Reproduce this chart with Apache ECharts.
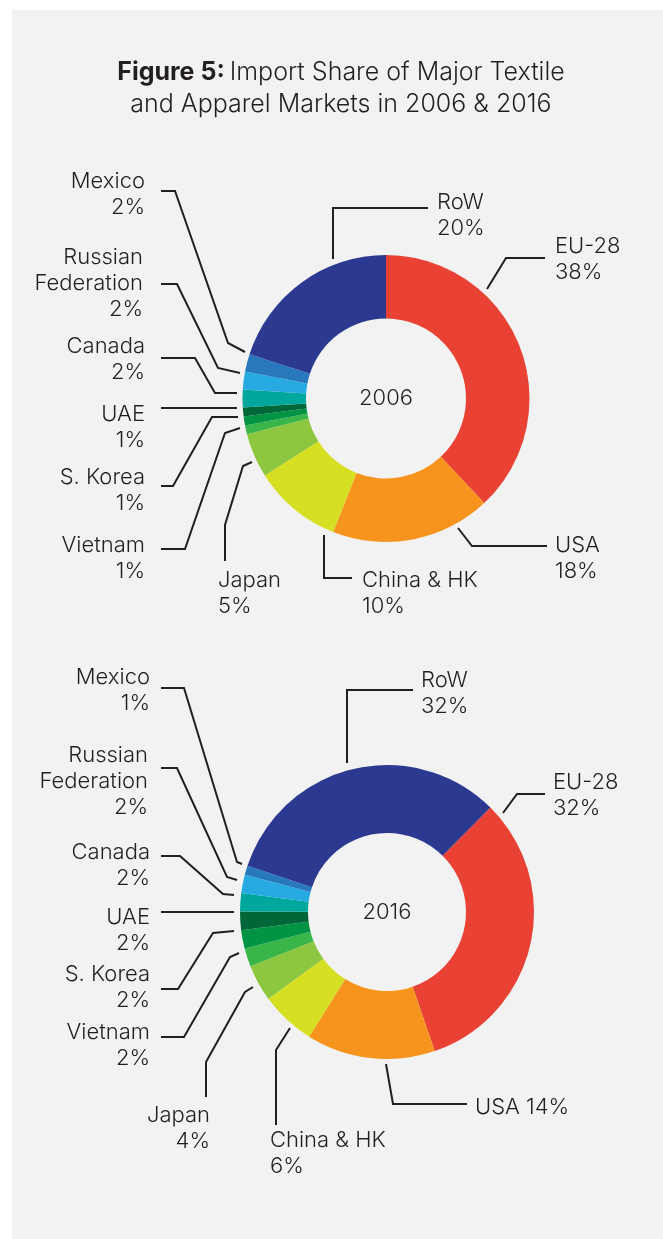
<!DOCTYPE html>
<html>
<head>
<meta charset="utf-8">
<script src="https://cdn.jsdelivr.net/npm/echarts@6/dist/echarts.min.js"></script>
<style>
  html, body { margin:0; padding:0; background:#fff; }
  #chart { width:663px; height:1239px; }
</style>
</head>
<body>
<div id="chart"></div>
<script>
// Data
const categories = ['EU-28', 'USA', 'China & HK', 'Japan', 'Vietnam', 'S. Korea', 'UAE', 'Canada', 'Russian Federation', 'Mexico', 'RoW'];
const share2006 = [38, 18, 10, 5, 1, 1, 1, 2, 2, 2, 20];
const share2016 = [32, 14, 6, 4, 2, 2, 2, 2, 2, 1, 32];
const years = ['2006', '2016'];
const sliceColors = ['#e94234', '#f7941d', '#d7df23', '#8dc63f', '#39b54a', '#009444', '#006838', '#00a79d', '#27aae1', '#2878be', '#2b3990'];

// Label placement (text anchor + leader line points, slice -> label)
const layout2006 = [
  { x:555, y:259, align:'left',  line:[[487,289],[506,258],[545,258]] },
  { x:555, y:558, align:'left',  line:[[458,528],[472,546],[547,546]] },
  { x:362, y:593, align:'left',  line:[[324,535],[324,578],[352,578]] },
  { x:218, y:593, align:'left',  line:[[252,462],[243,466],[225,525],[225,561]] },
  { x:145, y:558, align:'right', line:[[240,428],[225,433],[185,549],[161,549]] },
  { x:145, y:490, align:'right', line:[[238,417],[212,417],[173,486],[161,486]] },
  { x:145, y:427, align:'right', line:[[237,408],[161,408]] },
  { x:145, y:359, align:'right', line:[[237,393],[215,393],[195,358],[161,358]] },
  { x:143, y:283, align:'right', line:[[240,373],[218,368],[177,284],[161,284]] },
  { x:145, y:194, align:'right', line:[[245,352],[228,343],[175,191],[161,191]] },
  { x:437, y:215, align:'left',  line:[[333,259],[333,208],[428,208]] }
];
const layout2016 = [
  { x:553, y:795,  align:'left',  line:[[503,813],[517,794],[545,794]] },
  { x:475, y:1107, align:'left',  inline:true, line:[[386,1064],[393,1104],[467,1104]] },
  { x:270, y:1153, align:'left',  line:[[290,1028],[276,1050],[276,1125]] },
  { x:210, y:1128, align:'right', line:[[253,987],[245,992],[206,1062],[206,1097]] },
  { x:150, y:1045, align:'right', line:[[239,953],[230,957],[184,1037],[161,1037]] },
  { x:150, y:987,  align:'right', line:[[234,931],[213,933],[178,989],[161,989]] },
  { x:150, y:930,  align:'right', line:[[234,912],[161,912]] },
  { x:150, y:865,  align:'right', line:[[234,895],[223,894],[180,856],[161,856]] },
  { x:148, y:781,  align:'right', line:[[237,880],[227,877],[177,768],[161,768]] },
  { x:150, y:690,  align:'right', line:[[242,864],[237,862],[184,688],[161,688]] },
  { x:421, y:693,  align:'left',  line:[[347,763],[347,690],[413,690]] }
];
const layouts = [layout2006, layout2016];

const textColor = '#231f20';
const fontFamily = 'Inter, "Helvetica Neue", Arial, sans-serif';

const el = document.getElementById('chart');
const chart = echarts.init(el, null, { renderer:'canvas' });

function pieSeries(values, idx, center, radius, startAngle) {
  return {
    type:'pie', name: years[idx],
    center, radius, startAngle, clockwise:true,
    avoidLabelOverlap:false, silent:true,
    data: categories.map((c, i) => ({ name:c, value:values[i], itemStyle:{ color:sliceColors[i] } })),
    label: {
      show:true, position:'outside',
      color:textColor, fontFamily, fontSize:22, fontWeight:300, lineHeight:26,
      formatter: p => {
        const L = layouts[idx][p.dataIndex];
        const name = p.name.replace('Russian Federation', 'Russian\nFederation');
        return L.inline ? name + ' ' + p.value + '%' : name + '\n' + p.value + '%';
      }
    },
    labelLine: { show:true, length:10, length2:10, smooth:false, lineStyle:{ color:textColor, width:2 } },
    labelLayout: p => {
      const L = layouts[idx][p.dataIndex];
      return { x:L.x, y:L.y, align:L.align, verticalAlign:'middle', labelLinePoints:L.line };
    }
  };
}

chart.setOption({
  backgroundColor:'#ffffff',
  animation:false,
  title: {
    left:336, top:51, textAlign:'center',
    text:'{b|Figure 5:} {n|Import Share of Major Textile}\n{n|and Apparel Markets in 2006 & 2016}',
    textStyle: {
      rich: {
        b: { color:textColor, fontFamily, fontSize:25, fontWeight:'bold', lineHeight:32 },
        n: { color:textColor, fontFamily, fontSize:25, fontWeight:300, lineHeight:32 }
      }
    }
  },
  graphic: [
    { type:'rect', z:-10, silent:true, shape:{ x:12, y:10, width:651, height:1229 }, style:{ fill:'#f2f2f2' } },
    { type:'text', z:10, silent:true, x:386, y:398, style:{ text:years[0], fill:textColor, font:'300 22px ' + fontFamily, align:'center', verticalAlign:'middle' } },
    { type:'text', z:10, silent:true, x:387, y:912, style:{ text:years[1], fill:textColor, font:'300 22px ' + fontFamily, align:'center', verticalAlign:'middle' } }
  ],
  series: [
    pieSeries(share2006, 0, [386, 398.5], [80, 143.5], 90),
    pieSeries(share2016, 1, [387, 912], [79, 147], 45.3)
  ]
});

window.addEventListener('resize', () => chart.resize(), { passive:true });
</script>
</body>
</html>
